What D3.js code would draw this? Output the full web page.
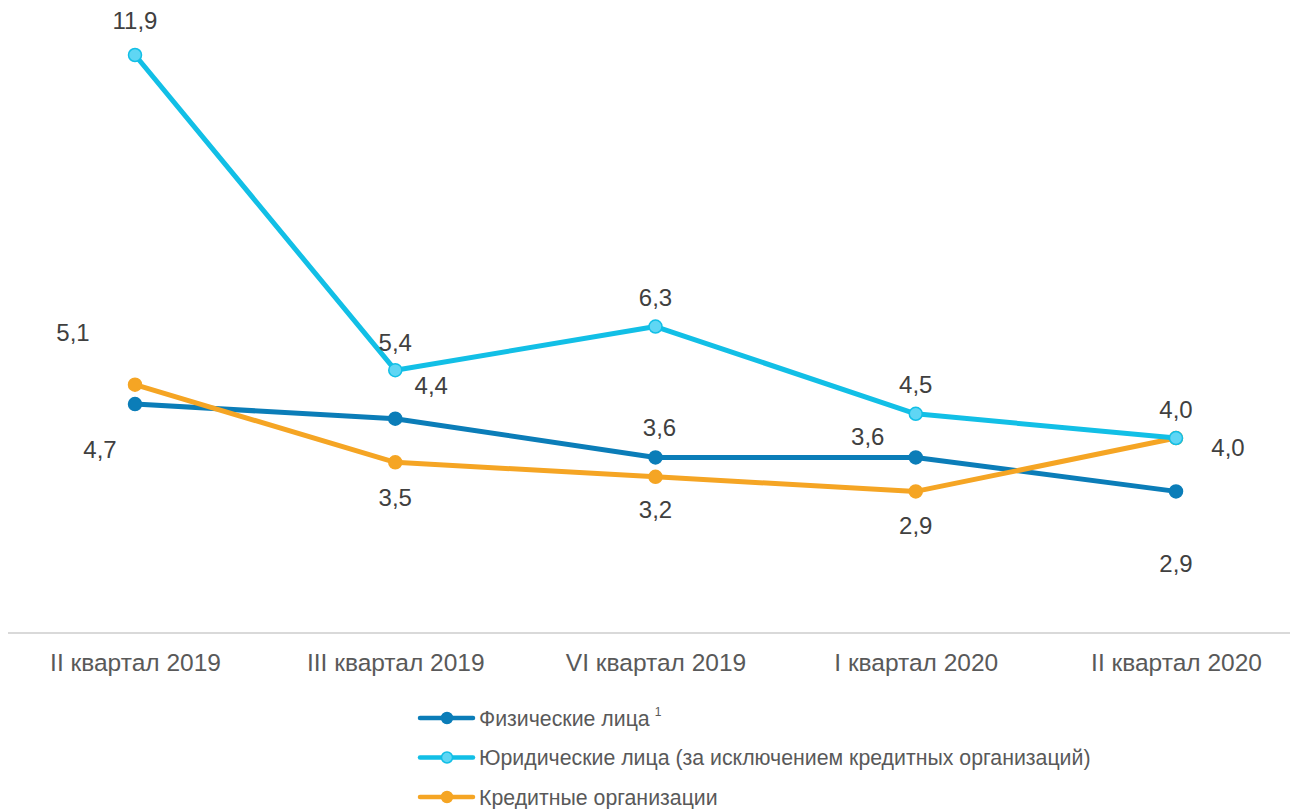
<!DOCTYPE html>
<html><head><meta charset="utf-8">
<script src="https://cdn.jsdelivr.net/npm/d3@7"></script>
<style>body{margin:0;background:#fff}svg{display:block;font-family:"Liberation Sans",Arial,sans-serif}</style>
</head><body><svg id="c" width="1292" height="809"></svg>
<script>
const categories = ["II квартал 2019","III квартал 2019","VI квартал 2019","I квартал 2020","II квартал 2020"];
const physical = [4.7, 4.4, 3.6, 3.6, 2.9];
const legal = [11.9, 5.4, 6.3, 4.5, 4.0];
const credit = [5.1, 3.5, 3.2, 2.9, 4.0];
const seriesNames = ["Физические лица","Юридические лица (за исключением кредитных организаций)","Кредитные организации"];

// label offsets [dx, dy] of label centre relative to point (layout)
const series = [
  {name: seriesNames[0], values: physical, color:"#0b7db8", fill:"#0b7db8",
   off:[[-35,45],[36,-33],[4,-30],[-48,-21],[0,72]]},
  {name: seriesNames[1], values: legal, color:"#12bfe6", fill:"#5fd6f4",
   off:[[0,-35],[0,-28],[0,-29],[0,-29],[0,-29]]},
  {name: seriesNames[2], values: credit, color:"#f5a524", fill:"#f5a524",
   off:[[-62,-52],[0,35],[0,33],[0,34],[52,9]]}
];
const drawOrder = [0,2,1];

const svg = d3.select("#c");
const x = d3.scalePoint().domain(categories).range([135,1176]);
const y = d3.scaleLinear().domain([0,11.9]).range([632,55]);

svg.append("line").attr("x1",8).attr("x2",1290).attr("y1",633).attr("y2",633)
  .attr("stroke","#d9d9d9").attr("stroke-width",2);
const ax = svg.append("g").attr("transform","translate(0,633)")
  .call(d3.axisBottom(x).tickSize(0).tickPadding(21));
ax.select(".domain").remove();
ax.selectAll("text").attr("font-size",24.5).attr("fill","#595959")
  .attr("font-family","'Liberation Sans',Arial,sans-serif");

const line = d3.line().x((d,i)=>x(categories[i])).y(d=>y(d));
drawOrder.forEach(k=>{
  const s = series[k];
  const g = svg.append("g");
  g.append("path").datum(s.values).attr("d",line).attr("fill","none")
    .attr("stroke",s.color).attr("stroke-width",5).attr("stroke-linejoin","round");
  g.selectAll("circle").data(s.values).join("circle")
    .attr("cx",(d,i)=>x(categories[i])).attr("cy",d=>y(d)).attr("r",6.5)
    .attr("fill",s.fill).attr("stroke",s.color).attr("stroke-width",1.5);
});
series.forEach(s=>{
  svg.append("g").selectAll("text").data(s.values).join("text")
    .attr("x",(d,i)=>x(categories[i])+s.off[i][0])
    .attr("y",(d,i)=>y(d)+s.off[i][1]+8.5)
    .attr("text-anchor","middle").attr("font-size",24).attr("fill","#404040")
    .text(d=>d.toFixed(1).replace(".",","));
});

const lg = svg.append("g");
series.forEach((s,i)=>{
  const ly = 718 + i*39.5;
  lg.append("line").attr("x1",420).attr("x2",473).attr("y1",ly).attr("y2",ly)
    .attr("stroke",s.color).attr("stroke-width",4.5).attr("stroke-linecap","round");
  lg.append("circle").attr("cx",447).attr("cy",ly).attr("r",5.5)
    .attr("fill",s.fill).attr("stroke",s.color).attr("stroke-width",1.5);
  const t = lg.append("text").attr("x",479).attr("y",ly+7.5).attr("font-size",21.3).attr("fill","#595959").text(s.name);
  if(i===0) t.append("tspan").attr("dx",5).attr("dy",-10).attr("font-size",12).text("1");
});
</script></body></html>
